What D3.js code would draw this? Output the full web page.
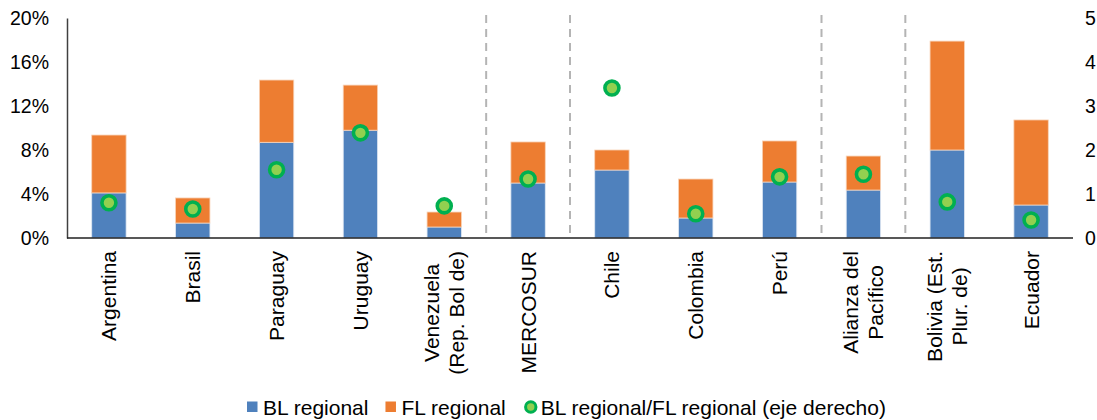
<!DOCTYPE html>
<html>
<head>
<meta charset="utf-8">
<script src="https://cdn.jsdelivr.net/npm/d3@7"></script>
<style>
  html, body { margin: 0; padding: 0; background: #fff; }
  svg { display: block; font-family: "Liberation Sans", Arial, sans-serif; }
</style>
</head>
<body>
<svg id="chart" width="1097" height="420"></svg>
<script>
// Categories (multi-line labels split with "\n")
const categories = [
  "Argentina", "Brasil", "Paraguay", "Uruguay", "Venezuela\n(Rep. Bol de)",
  "MERCOSUR", "Chile", "Colombia", "Perú", "Alianza del\nPacífico",
  "Bolivia (Est.\nPlur. de)", "Ecuador"
];
// BL regional (share, left axis)
const blRegional = [0.041, 0.0136, 0.087, 0.098, 0.010, 0.050, 0.0618, 0.0182, 0.0509, 0.0436, 0.080, 0.030];
// FL regional (share, stacked on top of BL)
const flRegional = [0.0526, 0.0228, 0.0566, 0.041, 0.0136, 0.0373, 0.0182, 0.0354, 0.0373, 0.0309, 0.099, 0.0773];
// BL regional / FL regional ratio (right axis)
const ratio = [0.80, 0.66, 1.55, 2.39, 0.73, 1.34, 3.41, 0.55, 1.39, 1.45, 0.82, 0.41];
// Group separators: dashed line after these categories
const separatorsAfter = [4, 5, 8, 9];
// Axis ticks
const leftTicks = [0, 0.04, 0.08, 0.12, 0.16, 0.20];
const rightTicks = [0, 1, 2, 3, 4, 5];
const legendItems = ["BL regional", "FL regional", "BL regional/FL regional (eje derecho)"];

const colBL = "#4f81bd", colFL = "#ed7d31", colDotOuter = "#00b050", colDotInner = "#92d050";

const svg = d3.select("#chart");
const margin = { left: 67, right: 24, top: 18, bottom: 182 };
const W = 1097, H = 420;
const x0 = margin.left, x1 = W - margin.right;
const yBase = 238, yTop = 18;

const x = d3.scaleBand().domain(d3.range(categories.length)).range([x0, x1])
  .paddingInner(0.59).paddingOuter(0.295);
const yL = d3.scaleLinear().domain([0, 0.20]).range([yBase, yTop]);
const yR = d3.scaleLinear().domain([0, 5]).range([yBase, yTop]);
const step = x.step();

// Group separators
svg.append("g").selectAll("line").data(separatorsAfter).join("line")
  .attr("x1", d => x(d) + x.bandwidth() / 2 + step / 2)
  .attr("x2", d => x(d) + x.bandwidth() / 2 + step / 2)
  .attr("y1", 15).attr("y2", 233)
  .attr("stroke", "#b4b4b4").attr("stroke-width", 2)
  .attr("stroke-dasharray", "8,6");

// Stacked bars
const bars = svg.append("g");
bars.selectAll("rect.bl").data(blRegional).join("rect").attr("class", "bl")
  .attr("x", (d, i) => x(i)).attr("width", x.bandwidth())
  .attr("y", d => yL(d)).attr("height", d => yL(0) - yL(d))
  .attr("fill", colBL).attr("stroke", "#dfe7f2").attr("stroke-width", 0.8);
bars.selectAll("rect.fl").data(flRegional).join("rect").attr("class", "fl")
  .attr("x", (d, i) => x(i)).attr("width", x.bandwidth())
  .attr("y", (d, i) => yL(blRegional[i] + d))
  .attr("height", (d, i) => yL(blRegional[i]) - yL(blRegional[i] + d))
  .attr("fill", colFL).attr("stroke", "#f8d2b6").attr("stroke-width", 0.8);

// Left axis
const axL = svg.append("g").attr("transform", `translate(${x0},0)`)
  .call(d3.axisLeft(yL).tickValues(leftTicks).tickFormat(d3.format(".0%")).tickSize(0).tickPadding(18));
axL.select(".domain").attr("stroke", "#404040").attr("stroke-width", 1.5);
axL.selectAll("text").attr("font-size", 19.5).attr("fill", "#000").attr("font-family", "Liberation Sans, Arial, sans-serif");

// Right axis (labels only)
const axR = svg.append("g").attr("transform", `translate(${x1},0)`)
  .call(d3.axisRight(yR).tickValues(rightTicks).tickFormat(d3.format("d")).tickSize(0).tickPadding(12));
axR.select(".domain").remove();
axR.selectAll("text").attr("font-size", 19.5).attr("fill", "#000").attr("font-family", "Liberation Sans, Arial, sans-serif");

// Bottom axis line
svg.append("line").attr("x1", x0).attr("x2", x1).attr("y1", yBase).attr("y2", yBase)
  .attr("stroke", "#202020").attr("stroke-width", 1.5);

// Ratio markers
svg.append("g").selectAll("circle").data(ratio).join("circle")
  .attr("cx", (d, i) => x(i) + x.bandwidth() / 2)
  .attr("cy", d => yR(d))
  .attr("r", 7)
  .attr("fill", colDotInner).attr("stroke", colDotOuter).attr("stroke-width", 3.6);

// Category labels, rotated, top-aligned at y=251, lines centred on each other
const labelFont = 21, lineH = 25;
const labels = svg.append("g").selectAll("g").data(categories).join("g")
  .attr("transform", (d, i) => `translate(${x(i) + x.bandwidth() / 2},251) rotate(-90)`);
labels.each(function (d) {
  const g = d3.select(this);
  const lines = d.split("\n");
  const texts = lines.map((ln, k) => g.append("text")
    .attr("font-size", labelFont).attr("fill", "#000")
    .attr("y", (k - (lines.length - 1) / 2) * lineH)
    .attr("dy", "0.36em")
    .text(ln));
  const maxLen = d3.max(texts, t => t.node().getComputedTextLength());
  texts.forEach(t => t.attr("text-anchor", "middle").attr("x", -maxLen / 2));
});

// Legend
const legend = svg.append("g");
let lx = 247;
const legBase = 415, legFont = 21;
legendItems.forEach((name, i) => {
  if (i < 2) {
    legend.append("rect").attr("x", lx).attr("y", 401.5).attr("width", 10.5).attr("height", 10.5)
      .attr("fill", i === 0 ? colBL : colFL);
    lx += 16;
  } else {
    legend.append("circle").attr("cx", lx + 8).attr("cy", 407).attr("r", 5.2)
      .attr("fill", colDotInner).attr("stroke", colDotOuter).attr("stroke-width", 3);
    lx += 18;
  }
  const t = legend.append("text").attr("x", lx).attr("y", legBase)
    .attr("font-size", legFont).attr("fill", "#000").text(name);
  lx += t.node().getComputedTextLength() + 17;
});
</script>
</body>
</html>
